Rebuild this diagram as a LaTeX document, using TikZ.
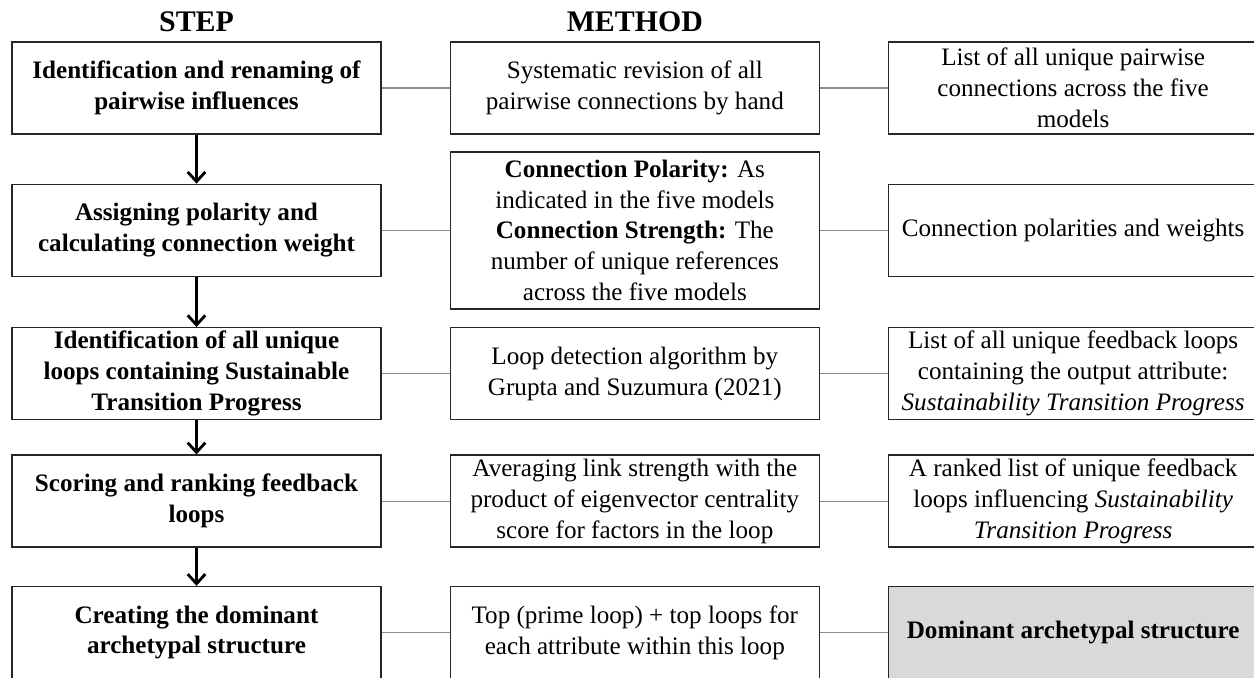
\documentclass[tikz,border=0pt]{standalone}
\usepackage{fontspec}
\setmainfont{Liberation Serif}
\usetikzlibrary{arrows.meta, positioning}

\begin{document}
\begin{tikzpicture}[
    x=0.02cm, y=-0.02cm,
    node distance=1.36cm,
    box/.style={rectangle, draw=black!85, line width=0.8pt, minimum width=7.38cm, minimum height=1.84cm, align=center, inner sep=1pt, font=\fontsize{14.3}{17.6}\selectfont},
    stepbox/.style={box, font=\fontsize{14.3}{17.6}\selectfont\bfseries},
    outbox/.style={box},
    endbox/.style={box, fill=black!15, font=\fontsize{14.3}{17.6}\selectfont\bfseries},
    header/.style={font=\fontsize{17}{20}\selectfont\bfseries, inner sep=0pt},
    arrow/.style={-{Straight Barb[length=5.5pt, width=10pt, line width=1.6pt]}, line width=1.6pt},
    link/.style={draw=black!45, line width=0.7pt}
]
    \useasboundingbox (0,0) rectangle (1254,677);

    % Steps
    \node[stepbox] (s1) at (196.5,88) {Identification and renaming of\\pairwise influences};
    \node[stepbox, below=0.98cm of s1] (s2) {Assigning polarity and\\calculating connection weight};
    \node[stepbox, below=1.0cm of s2] (s3) {Identification of all unique\\loops containing Sustainable\\Transition Progress};
    \node[stepbox, below=0.68cm of s3] (s4) {Scoring and ranking feedback\\loops};
    \node[stepbox, below=0.76cm of s4] (s5) {Creating the dominant\\archetypal structure};

    \draw[arrow] (s1) -- (s2);
    \draw[arrow] (s2) -- (s3);
    \draw[arrow] (s3) -- (s4);
    \draw[arrow] (s4) -- (s5);

    % Methods
    \node[box, right=of s1] (m1) {Systematic revision of all\\pairwise connections by hand};
    \node[box, right=of s2, minimum height=3.14cm] (m2) {\textbf{Connection Polarity:} As\\indicated in the five models\\\textbf{Connection Strength:} The\\number of unique references\\across the five models};
    \node[box, right=of s3] (m3) {Loop detection algorithm by\\Grupta and Suzumura (2021)};
    \node[box, right=of s4] (m4) {Averaging link strength with the\\product of eigenvector centrality\\score for factors in the loop};
    \node[box, right=of s5] (m5) {Top (prime loop) + top loops for\\each attribute within this loop};

    % Outputs
    \node[outbox, right=of m1] (o1) {List of all unique pairwise\\connections across the five\\models};
    \node[outbox, right=of m2] (o2) {Connection polarities and weights};
    \node[outbox, right=of m3] (o3) {List of all unique feedback loops\\containing the output attribute:\\\textit{Sustainability Transition Progress}};
    \node[outbox, right=of m4] (o4) {A ranked list of unique feedback\\loops influencing \textit{Sustainability}\\\textit{Transition Progress}};
    \node[endbox, right=of m5] (o5) {Dominant archetypal structure};

    \foreach \i in {1,...,5} {
        \draw[link] (s\i) -- (m\i);
        \draw[link] (m\i) -- (o\i);
    }

    % Headers
    \node[header, above=0.18cm of s1] (hstep) {STEP};
    \node[header, above=0.18cm of m1] (hmethod) {METHOD};
\end{tikzpicture}
\end{document}
